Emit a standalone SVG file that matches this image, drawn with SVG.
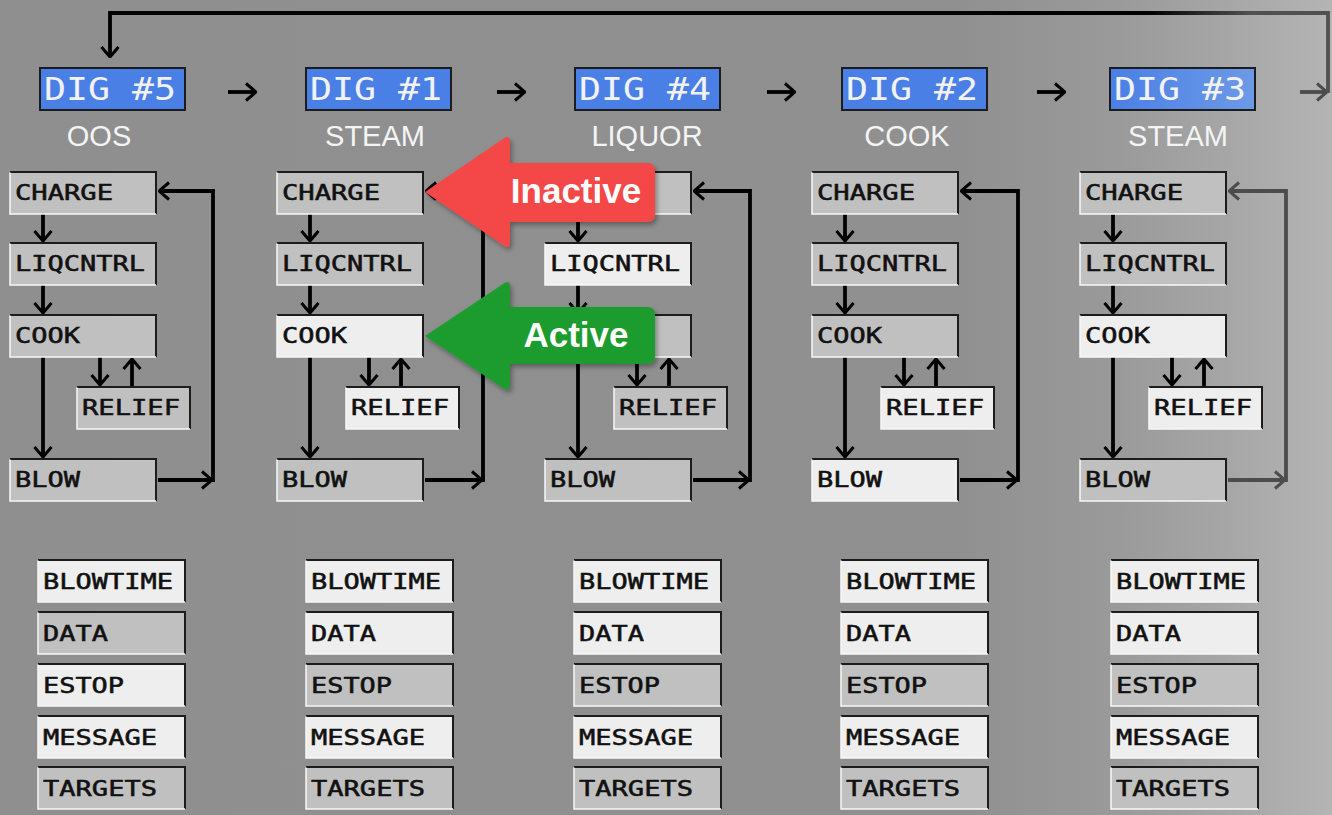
<svg xmlns="http://www.w3.org/2000/svg" xmlns:xlink="http://www.w3.org/1999/xlink" width="1332" height="815" viewBox="0 0 1332 815">
<style>
.in{fill:#c0c0c0}
.ac{fill:#eeeeee}
.fd{fill:none;stroke:#1c1c1c;stroke-width:2}
.fl{fill:none;stroke:#f8f8f8;stroke-width:1.5}
.t{font-family:"DejaVu Sans Mono",monospace;font-size:22px;fill:#111;stroke:#111;stroke-width:0.55}
.dig{stroke:#1c1c1c;stroke-width:2}
.dt{font-family:"DejaVu Sans Mono",monospace;font-size:31.5px;fill:#f2f2f2}
.st{font-family:"Liberation Sans",Arial,sans-serif;font-size:29px;fill:#f4f4f4;text-anchor:middle}
.cn{fill:none;stroke:#000;stroke-width:3.8;marker-end:url(#ah)}
.cg{stroke:#4c4c4c;marker-end:url(#ahg)}
.co{font-family:"Liberation Sans",Arial,sans-serif;font-size:35px;font-weight:bold;fill:#fff;text-anchor:middle}
</style>
<defs>
<linearGradient id="bgg" x1="0" y1="0" x2="1332" y2="0" gradientUnits="userSpaceOnUse">
<stop offset="0" stop-color="#8f8f8f"/>
<stop offset="0.72" stop-color="#909090"/>
<stop offset="0.84" stop-color="#9a9a9a"/>
<stop offset="0.92" stop-color="#a6a6a6"/>
<stop offset="1" stop-color="#b4b4b4"/>
</linearGradient>
<linearGradient id="blue3" x1="1110" y1="0" x2="1255" y2="0" gradientUnits="userSpaceOnUse">
<stop offset="0" stop-color="#4a7fe6"/>
<stop offset="1" stop-color="#6d9ae6"/>
</linearGradient>
<linearGradient id="topg" x1="1150" y1="0" x2="1250" y2="0" gradientUnits="userSpaceOnUse">
<stop offset="0" stop-color="#000"/>
<stop offset="1" stop-color="#505050"/>
</linearGradient>
<marker id="ah" viewBox="0 0 12 20" refX="11" refY="10" markerWidth="12" markerHeight="20" markerUnits="userSpaceOnUse" orient="auto">
<path d="M1,1.5 L11,10 L1,18.5" fill="none" stroke="#000" stroke-width="3"/>
</marker>
<marker id="ahg" viewBox="0 0 12 20" refX="11" refY="10" markerWidth="12" markerHeight="20" markerUnits="userSpaceOnUse" orient="auto">
<path d="M1,1.5 L11,10 L1,18.5" fill="none" stroke="#4c4c4c" stroke-width="3"/>
</marker>
<g id="fS"><path class="fd" d="M0,0 H146 V42"/><path class="fl" d="M0,0.5 V42 H146"/></g>
<g id="fR"><path class="fd" d="M0,0 H113 V42"/><path class="fl" d="M0,0.5 V42 H113"/></g>
<g id="fB"><path class="fd" d="M0,0 H147 V42"/><path class="fl" d="M0,0.5 V42 H147"/></g>
<filter id="sh" x="-10%" y="-15%" width="125%" height="140%">
<feDropShadow dx="2" dy="3" stdDeviation="2.5" flood-color="#000" flood-opacity="0.35"/>
</filter>
</defs>
<rect x="0" y="0" width="1332" height="815" fill="url(#bgg)"/>

<g id="connectors">
<path class="cn" d="M228,92 H256"/>
<path class="cn" d="M497,92 H525"/>
<path class="cn" d="M767,92 H795"/>
<path class="cn" d="M1037,92 H1065"/>
<path class="cn cg" d="M1300,92 H1327"/>
<path d="M1328,93 V13 H110 V57" fill="none" stroke="url(#topg)" stroke-width="3.8" marker-end="url(#ah)"/>

<path class="cn" d="M43,214 V241"/>
<path class="cn" d="M43,285 V313"/>
<path class="cn" d="M43,357 V457"/>
<path class="cn" d="M100,357 V385"/>
<path class="cn" d="M132,387 V359"/>
<path class="cn" d="M158,480 H212"/>
<path class="cn" d="M213,482 V191 H159"/>

<path class="cn" d="M310,214 V241"/>
<path class="cn" d="M310,285 V313"/>
<path class="cn" d="M310,357 V457"/>
<path class="cn" d="M369,357 V385"/>
<path class="cn" d="M401,387 V359"/>
<path class="cn" d="M425,480 H482"/>
<path class="cn" d="M483,482 V191 H426"/>

<path class="cn" d="M578,214 V241"/>
<path class="cn" d="M578,285 V313"/>
<path class="cn" d="M578,357 V457"/>
<path class="cn" d="M637,357 V385"/>
<path class="cn" d="M669,387 V359"/>
<path class="cn" d="M693,480 H749"/>
<path class="cn" d="M750,482 V191 H694"/>

<path class="cn" d="M845,214 V241"/>
<path class="cn" d="M845,285 V313"/>
<path class="cn" d="M845,357 V457"/>
<path class="cn" d="M904,357 V385"/>
<path class="cn" d="M936,387 V359"/>
<path class="cn" d="M960,480 H1017"/>
<path class="cn" d="M1018,482 V191 H961"/>

<path class="cn" d="M1113,214 V241"/>
<path class="cn" d="M1113,285 V313"/>
<path class="cn" d="M1113,357 V457"/>
<path class="cn" d="M1172,357 V385"/>
<path class="cn" d="M1204,387 V359"/>
<path class="cn cg" d="M1228,480 H1285"/>
<path class="cn cg" d="M1286,482 V191 H1229"/>
</g>

<!-- Headers -->
<g id="dig5"><rect class="dig" x="40" y="68" width="145" height="42" fill="#4a7fe6"/><text class="dt" x="44" y="100" textLength="132" lengthAdjust="spacingAndGlyphs">DIG #5</text></g>
<g id="dig1"><rect class="dig" x="306" y="68" width="145" height="42" fill="#4a7fe6"/><text class="dt" x="310" y="100" textLength="132" lengthAdjust="spacingAndGlyphs">DIG #1</text></g>
<g id="dig4"><rect class="dig" x="575" y="68" width="145" height="42" fill="#4a7fe6"/><text class="dt" x="579" y="100" textLength="132" lengthAdjust="spacingAndGlyphs">DIG #4</text></g>
<g id="dig2"><rect class="dig" x="842" y="68" width="145" height="42" fill="#4a7fe6"/><text class="dt" x="846" y="100" textLength="132" lengthAdjust="spacingAndGlyphs">DIG #2</text></g>
<g id="dig3"><rect class="dig" x="1110" y="68" width="145" height="42" fill="url(#blue3)"/><text class="dt" x="1114" y="100" textLength="132" lengthAdjust="spacingAndGlyphs">DIG #3</text></g>

<g id="sub5"><text class="st" x="99" y="146">OOS</text></g>
<g id="sub1"><text class="st" x="375" y="146">STEAM</text></g>
<g id="sub4"><text class="st" x="647" y="146">LIQUOR</text></g>
<g id="sub2"><text class="st" x="907" y="146">COOK</text></g>
<g id="sub3"><text class="st" x="1178" y="146">STEAM</text></g>

<!-- Column 1 (DIG #5) -->
<g id="c1-charge"><rect class="in" x="10" y="172" width="146" height="42"/><use href="#fS" x="10" y="172"/><text class="t" x="15" y="200" textLength="98" lengthAdjust="spacingAndGlyphs">CHARGE</text></g>
<g id="c1-liqcntrl"><rect class="in" x="10" y="243" width="146" height="42"/><use href="#fS" x="10" y="243"/><text class="t" x="15" y="271" textLength="130" lengthAdjust="spacingAndGlyphs">LIQCNTRL</text></g>
<g id="c1-cook"><rect class="in" x="10" y="315" width="146" height="42"/><use href="#fS" x="10" y="315"/><text class="t" x="15" y="343" textLength="65" lengthAdjust="spacingAndGlyphs">COOK</text></g>
<g id="c1-relief"><rect class="in" x="77" y="387" width="113" height="42"/><use href="#fR" x="77" y="387"/><text class="t" x="82" y="415" textLength="98" lengthAdjust="spacingAndGlyphs">RELIEF</text></g>
<g id="c1-blow"><rect class="in" x="10" y="459" width="146" height="42"/><use href="#fS" x="10" y="459"/><text class="t" x="15" y="487" textLength="65" lengthAdjust="spacingAndGlyphs">BLOW</text></g>
<g id="c1-blowtime"><rect class="ac" x="38" y="560" width="147" height="42"/><use href="#fB" x="38" y="560"/><text class="t" x="43" y="589" textLength="130" lengthAdjust="spacingAndGlyphs">BLOWTIME</text></g>
<g id="c1-data"><rect class="in" x="38" y="612" width="147" height="42"/><use href="#fB" x="38" y="612"/><text class="t" x="43" y="641" textLength="65" lengthAdjust="spacingAndGlyphs">DATA</text></g>
<g id="c1-estop"><rect class="ac" x="38" y="664" width="147" height="42"/><use href="#fB" x="38" y="664"/><text class="t" x="43" y="693" textLength="81" lengthAdjust="spacingAndGlyphs">ESTOP</text></g>
<g id="c1-message"><rect class="ac" x="38" y="716" width="147" height="42"/><use href="#fB" x="38" y="716"/><text class="t" x="43" y="745" textLength="114" lengthAdjust="spacingAndGlyphs">MESSAGE</text></g>
<g id="c1-targets"><rect class="in" x="38" y="767" width="147" height="42"/><use href="#fB" x="38" y="767"/><text class="t" x="43" y="796" textLength="114" lengthAdjust="spacingAndGlyphs">TARGETS</text></g>

<!-- Column 2 (DIG #1) -->
<g id="c2-charge"><rect class="in" x="277" y="172" width="146" height="42"/><use href="#fS" x="277" y="172"/><text class="t" x="282" y="200" textLength="98" lengthAdjust="spacingAndGlyphs">CHARGE</text></g>
<g id="c2-liqcntrl"><rect class="in" x="277" y="243" width="146" height="42"/><use href="#fS" x="277" y="243"/><text class="t" x="282" y="271" textLength="130" lengthAdjust="spacingAndGlyphs">LIQCNTRL</text></g>
<g id="c2-cook"><rect class="ac" x="277" y="315" width="146" height="42"/><use href="#fS" x="277" y="315"/><text class="t" x="282" y="343" textLength="65" lengthAdjust="spacingAndGlyphs">COOK</text></g>
<g id="c2-relief"><rect class="ac" x="346" y="387" width="113" height="42"/><use href="#fR" x="346" y="387"/><text class="t" x="351" y="415" textLength="98" lengthAdjust="spacingAndGlyphs">RELIEF</text></g>
<g id="c2-blow"><rect class="in" x="277" y="459" width="146" height="42"/><use href="#fS" x="277" y="459"/><text class="t" x="282" y="487" textLength="65" lengthAdjust="spacingAndGlyphs">BLOW</text></g>
<g id="c2-blowtime"><rect class="ac" x="306" y="560" width="147" height="42"/><use href="#fB" x="306" y="560"/><text class="t" x="311" y="589" textLength="130" lengthAdjust="spacingAndGlyphs">BLOWTIME</text></g>
<g id="c2-data"><rect class="ac" x="306" y="612" width="147" height="42"/><use href="#fB" x="306" y="612"/><text class="t" x="311" y="641" textLength="65" lengthAdjust="spacingAndGlyphs">DATA</text></g>
<g id="c2-estop"><rect class="in" x="306" y="664" width="147" height="42"/><use href="#fB" x="306" y="664"/><text class="t" x="311" y="693" textLength="81" lengthAdjust="spacingAndGlyphs">ESTOP</text></g>
<g id="c2-message"><rect class="ac" x="306" y="716" width="147" height="42"/><use href="#fB" x="306" y="716"/><text class="t" x="311" y="745" textLength="114" lengthAdjust="spacingAndGlyphs">MESSAGE</text></g>
<g id="c2-targets"><rect class="in" x="306" y="767" width="147" height="42"/><use href="#fB" x="306" y="767"/><text class="t" x="311" y="796" textLength="114" lengthAdjust="spacingAndGlyphs">TARGETS</text></g>

<!-- Column 3 (DIG #4) -->
<g id="c3-charge"><rect class="in" x="545" y="172" width="146" height="42"/><use href="#fS" x="545" y="172"/></g>
<g id="c3-liqcntrl"><rect class="ac" x="545" y="243" width="146" height="42"/><use href="#fS" x="545" y="243"/><text class="t" x="550" y="271" textLength="130" lengthAdjust="spacingAndGlyphs">LIQCNTRL</text></g>
<g id="c3-cook"><rect class="in" x="545" y="315" width="146" height="42"/><use href="#fS" x="545" y="315"/></g>
<g id="c3-relief"><rect class="in" x="614" y="387" width="113" height="42"/><use href="#fR" x="614" y="387"/><text class="t" x="619" y="415" textLength="98" lengthAdjust="spacingAndGlyphs">RELIEF</text></g>
<g id="c3-blow"><rect class="in" x="545" y="459" width="146" height="42"/><use href="#fS" x="545" y="459"/><text class="t" x="550" y="487" textLength="65" lengthAdjust="spacingAndGlyphs">BLOW</text></g>
<g id="c3-blowtime"><rect class="ac" x="574" y="560" width="147" height="42"/><use href="#fB" x="574" y="560"/><text class="t" x="579" y="589" textLength="130" lengthAdjust="spacingAndGlyphs">BLOWTIME</text></g>
<g id="c3-data"><rect class="ac" x="574" y="612" width="147" height="42"/><use href="#fB" x="574" y="612"/><text class="t" x="579" y="641" textLength="65" lengthAdjust="spacingAndGlyphs">DATA</text></g>
<g id="c3-estop"><rect class="in" x="574" y="664" width="147" height="42"/><use href="#fB" x="574" y="664"/><text class="t" x="579" y="693" textLength="81" lengthAdjust="spacingAndGlyphs">ESTOP</text></g>
<g id="c3-message"><rect class="ac" x="574" y="716" width="147" height="42"/><use href="#fB" x="574" y="716"/><text class="t" x="579" y="745" textLength="114" lengthAdjust="spacingAndGlyphs">MESSAGE</text></g>
<g id="c3-targets"><rect class="in" x="574" y="767" width="147" height="42"/><use href="#fB" x="574" y="767"/><text class="t" x="579" y="796" textLength="114" lengthAdjust="spacingAndGlyphs">TARGETS</text></g>

<!-- Column 4 (DIG #2) -->
<g id="c4-charge"><rect class="in" x="812" y="172" width="146" height="42"/><use href="#fS" x="812" y="172"/><text class="t" x="817" y="200" textLength="98" lengthAdjust="spacingAndGlyphs">CHARGE</text></g>
<g id="c4-liqcntrl"><rect class="in" x="812" y="243" width="146" height="42"/><use href="#fS" x="812" y="243"/><text class="t" x="817" y="271" textLength="130" lengthAdjust="spacingAndGlyphs">LIQCNTRL</text></g>
<g id="c4-cook"><rect class="in" x="812" y="315" width="146" height="42"/><use href="#fS" x="812" y="315"/><text class="t" x="817" y="343" textLength="65" lengthAdjust="spacingAndGlyphs">COOK</text></g>
<g id="c4-relief"><rect class="ac" x="881" y="387" width="113" height="42"/><use href="#fR" x="881" y="387"/><text class="t" x="886" y="415" textLength="98" lengthAdjust="spacingAndGlyphs">RELIEF</text></g>
<g id="c4-blow"><rect class="ac" x="812" y="459" width="146" height="42"/><use href="#fS" x="812" y="459"/><text class="t" x="817" y="487" textLength="65" lengthAdjust="spacingAndGlyphs">BLOW</text></g>
<g id="c4-blowtime"><rect class="ac" x="841" y="560" width="147" height="42"/><use href="#fB" x="841" y="560"/><text class="t" x="846" y="589" textLength="130" lengthAdjust="spacingAndGlyphs">BLOWTIME</text></g>
<g id="c4-data"><rect class="ac" x="841" y="612" width="147" height="42"/><use href="#fB" x="841" y="612"/><text class="t" x="846" y="641" textLength="65" lengthAdjust="spacingAndGlyphs">DATA</text></g>
<g id="c4-estop"><rect class="in" x="841" y="664" width="147" height="42"/><use href="#fB" x="841" y="664"/><text class="t" x="846" y="693" textLength="81" lengthAdjust="spacingAndGlyphs">ESTOP</text></g>
<g id="c4-message"><rect class="ac" x="841" y="716" width="147" height="42"/><use href="#fB" x="841" y="716"/><text class="t" x="846" y="745" textLength="114" lengthAdjust="spacingAndGlyphs">MESSAGE</text></g>
<g id="c4-targets"><rect class="in" x="841" y="767" width="147" height="42"/><use href="#fB" x="841" y="767"/><text class="t" x="846" y="796" textLength="114" lengthAdjust="spacingAndGlyphs">TARGETS</text></g>

<!-- Column 5 (DIG #3) -->
<g id="c5-charge"><rect class="in" x="1080" y="172" width="146" height="42"/><use href="#fS" x="1080" y="172"/><text class="t" x="1085" y="200" textLength="98" lengthAdjust="spacingAndGlyphs">CHARGE</text></g>
<g id="c5-liqcntrl"><rect class="in" x="1080" y="243" width="146" height="42"/><use href="#fS" x="1080" y="243"/><text class="t" x="1085" y="271" textLength="130" lengthAdjust="spacingAndGlyphs">LIQCNTRL</text></g>
<g id="c5-cook"><rect class="ac" x="1080" y="315" width="146" height="42"/><use href="#fS" x="1080" y="315"/><text class="t" x="1085" y="343" textLength="65" lengthAdjust="spacingAndGlyphs">COOK</text></g>
<g id="c5-relief"><rect class="ac" x="1149" y="387" width="113" height="42"/><use href="#fR" x="1149" y="387"/><text class="t" x="1154" y="415" textLength="98" lengthAdjust="spacingAndGlyphs">RELIEF</text></g>
<g id="c5-blow"><rect class="in" x="1080" y="459" width="146" height="42"/><use href="#fS" x="1080" y="459"/><text class="t" x="1085" y="487" textLength="65" lengthAdjust="spacingAndGlyphs">BLOW</text></g>
<g id="c5-blowtime"><rect class="ac" x="1111" y="560" width="147" height="42"/><use href="#fB" x="1111" y="560"/><text class="t" x="1116" y="589" textLength="130" lengthAdjust="spacingAndGlyphs">BLOWTIME</text></g>
<g id="c5-data"><rect class="ac" x="1111" y="612" width="147" height="42"/><use href="#fB" x="1111" y="612"/><text class="t" x="1116" y="641" textLength="65" lengthAdjust="spacingAndGlyphs">DATA</text></g>
<g id="c5-estop"><rect class="in" x="1111" y="664" width="147" height="42"/><use href="#fB" x="1111" y="664"/><text class="t" x="1116" y="693" textLength="81" lengthAdjust="spacingAndGlyphs">ESTOP</text></g>
<g id="c5-message"><rect class="ac" x="1111" y="716" width="147" height="42"/><use href="#fB" x="1111" y="716"/><text class="t" x="1116" y="745" textLength="114" lengthAdjust="spacingAndGlyphs">MESSAGE</text></g>
<g id="c5-targets"><rect class="in" x="1111" y="767" width="147" height="42"/><use href="#fB" x="1111" y="767"/><text class="t" x="1116" y="796" textLength="114" lengthAdjust="spacingAndGlyphs">TARGETS</text></g>

<!-- Callouts -->
<g id="callout-inactive">
<path d="M425,192 L503,139 Q510,134 510,142 L510,163 L647,163 Q655,163 655,171 L655,214 Q655,222 647,222 L510,222 L510,242 Q510,250 503,245 Z" fill="#f44646" filter="url(#sh)"/>
<text class="co" x="576" y="203">Inactive</text>
</g>
<g id="callout-active">
<path d="M425,336 L503,284 Q510,279 510,287 L510,307 L647,307 Q655,307 655,315 L655,356 Q655,364 647,364 L510,364 L510,385 Q510,393 503,388 Z" fill="#1f9b2f" filter="url(#sh)"/>
<text class="co" x="576" y="347">Active</text>
</g>
</svg>
